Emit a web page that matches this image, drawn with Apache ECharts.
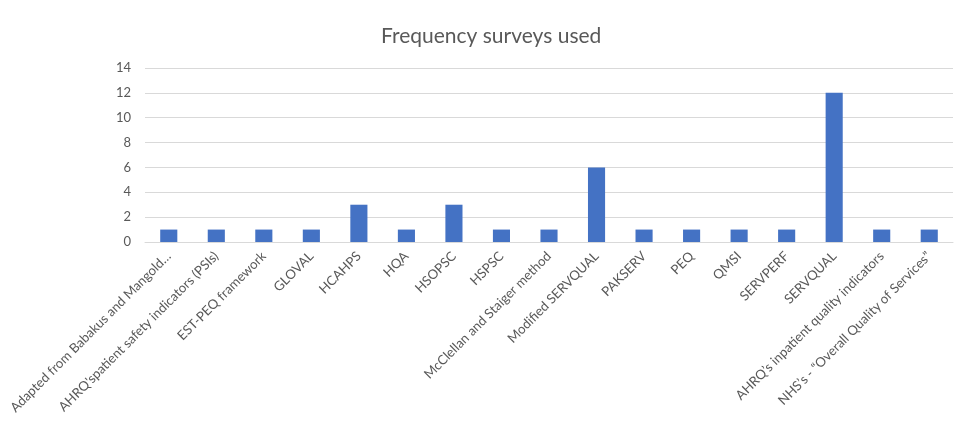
<!DOCTYPE html>
<html>
<head>
<meta charset="utf-8">
<script src="https://cdn.jsdelivr.net/npm/echarts@6/dist/echarts.min.js"></script>
<style>
  html, body { margin: 0; padding: 0; background: #fff; }
  #chart { width: 960px; height: 432px; }
</style>
</head>
<body>
<div id="chart"></div>
<script>
// Survey instruments and how often each was used
const categories = [
  'Adapted from Babakus and Mangold…',
  'AHRQ\'spatient safety indicators (PSIs)',
  'EST-PEQ framework',
  'GLOVAL',
  'HCAHPS',
  'HQA',
  'HSOPSC',
  'HSPSC',
  'McClellan and Staiger method',
  'Modified SERVQUAL',
  'PAKSERV',
  'PEQ',
  'QMSI',
  'SERVPERF',
  'SERVQUAL',
  'AHRQ\u2019s inpatient quality indicators',
  'NHS\u2019s - \u201cOverall Quality of Services\u201d'
];
const frequency = [1, 1, 1, 1, 3, 1, 3, 1, 1, 6, 1, 1, 1, 1, 12, 1, 1];
const yTicks = [0, 2, 4, 6, 8, 10, 12, 14];

const chart = echarts.init(document.getElementById('chart'));
const textColor = '#595959';
const font = 'Lato, "Open Sans", sans-serif';

chart.setOption({
  animation: false,
  title: {
    text: 'Frequency surveys used',
    left: 376,
    top: 21,
    textStyle: { color: textColor, fontSize: 21, fontWeight: 'normal', fontFamily: font }
  },
  grid: { left: 145, right: 7, top: 68, bottom: 190, containLabel: false },
  xAxis: {
    type: 'category',
    data: categories,
    axisLine: { lineStyle: { color: '#d9d9d9' } },
    axisTick: { show: false },
    axisLabel: {
      interval: 0,
      rotate: 45,
      color: textColor,
      fontSize: 13.2,
      fontFamily: font,
      margin: 12
    }
  },
  yAxis: {
    type: 'value',
    min: yTicks[0],
    max: yTicks[yTicks.length - 1],
    interval: 2,
    axisLine: { show: false },
    axisTick: { show: false },
    splitLine: { lineStyle: { color: '#d9d9d9' } },
    axisLabel: { color: textColor, fontSize: 13, fontFamily: font, margin: 14 }
  },
  series: [{
    type: 'bar',
    data: frequency,
    barWidth: '36%',
    itemStyle: { color: '#4472C4' }
  }]
});
</script>
</body>
</html>
